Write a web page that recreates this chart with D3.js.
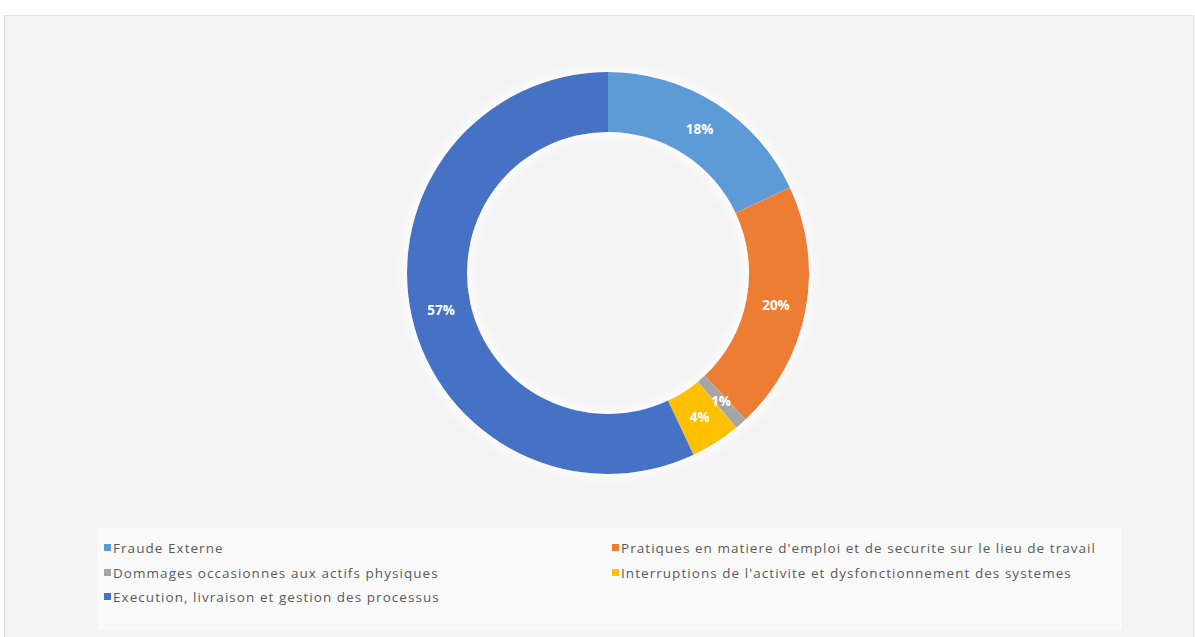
<!DOCTYPE html>
<html>
<head>
<meta charset="utf-8">
<script src="https://cdn.jsdelivr.net/npm/d3@7"></script>
<style>
  html, body { margin: 0; padding: 0; background: #ffffff; }
  svg { display: block; }
</style>
</head>
<body>
<svg id="chart" width="1195" height="637"></svg>
<script>
// Répartition des pertes opérationnelles par catégorie de risque (%)
const categories = [
  "Fraude Externe",
  "Pratiques en matiere d'emploi et de securite sur le lieu de travail",
  "Dommages occasionnes aux actifs physiques",
  "Interruptions de l'activite et dysfonctionnement des systemes",
  "Execution, livraison et gestion des processus"
];
const values = [18, 20, 1, 4, 57];
const colors = ["#5B9BD5", "#ED7D31", "#A5A5A5", "#FFC000", "#4472C4"];

const svg = d3.select("#chart");
const W = 1195, H = 637;

// Chart frame
svg.append("rect")
  .attr("x", 4.5).attr("y", 15.5)
  .attr("width", W - 6).attr("height", H - 10)
  .attr("fill", "#f4f4f4")
  .attr("stroke", "#e0e0e0");

// Legend panel
svg.append("rect")
  .attr("x", 97).attr("y", 528)
  .attr("width", 1025).attr("height", 102)
  .attr("fill", "#f9f9f9");

const defs = svg.append("defs");
const glow = defs.append("filter").attr("id", "glow")
  .attr("x", "-20%").attr("y", "-20%").attr("width", "140%").attr("height", "140%");
glow.append("feMorphology").attr("in", "SourceAlpha").attr("operator", "dilate").attr("radius", 2).attr("result", "dil");
glow.append("feGaussianBlur").attr("in", "dil").attr("stdDeviation", 6).attr("result", "blur");
glow.append("feFlood").attr("flood-color", "#ffffff").attr("flood-opacity", 0.95);
glow.append("feComposite").attr("in2", "blur").attr("operator", "in").attr("result", "glowColor");
const merge = glow.append("feMerge");
merge.append("feMergeNode").attr("in", "glowColor");
merge.append("feMergeNode").attr("in", "SourceGraphic");

// Donut
const cx = 608, cy = 273, outerR = 201, innerR = 141;
const color = d3.scaleOrdinal().domain(categories).range(colors);

const pie = d3.pie().sort(null).value(d => d.value);
const data = categories.map((c, i) => ({ name: c, value: values[i] }));
const arcs = pie(data);
const arc = d3.arc().innerRadius(innerR).outerRadius(outerR);
const labelArc = d3.arc().innerRadius((innerR + outerR) / 2).outerRadius((innerR + outerR) / 2);

const g = svg.append("g").attr("transform", `translate(${cx},${cy})`);
g.append("g").attr("filter", "url(#glow)")
  .selectAll("path")
  .data(arcs)
  .join("path")
  .attr("d", arc)
  .attr("fill", d => color(d.data.name));

const total = d3.sum(values);
g.selectAll("text.pct")
  .data(arcs)
  .join("text")
  .attr("class", "pct")
  .attr("transform", d => `translate(${labelArc.centroid(d)})`)
  .attr("text-anchor", "middle")
  .attr("dominant-baseline", "central")
  .attr("font-family", "'Open Sans', 'Liberation Sans', Arial, sans-serif")
  .attr("font-weight", "bold")
  .attr("font-size", 13.5)
  .attr("fill", "#ffffff")
  .text(d => Math.round(d.data.value / total * 100) + "%");

// Legend (two columns)
const legendCols = [112, 620];
const legendRows = [548, 573, 597];
const legend = svg.append("g");
const items = legend.selectAll("g")
  .data(data)
  .join("g")
  .attr("transform", (d, i) => `translate(${legendCols[i % 2]},${legendRows[Math.floor(i / 2)]})`);
items.append("rect")
  .attr("x", -8).attr("y", -4)
  .attr("width", 7).attr("height", 7)
  .attr("fill", d => color(d.name));
items.append("text")
  .attr("x", 1).attr("y", 0)
  .attr("dominant-baseline", "central")
  .attr("font-family", "'Open Sans', 'Liberation Sans', Arial, sans-serif")
  .attr("font-size", 13.5)
  .attr("letter-spacing", 1.05)
  .attr("fill", "#595959")
  .text(d => d.name);
</script>
</body>
</html>
